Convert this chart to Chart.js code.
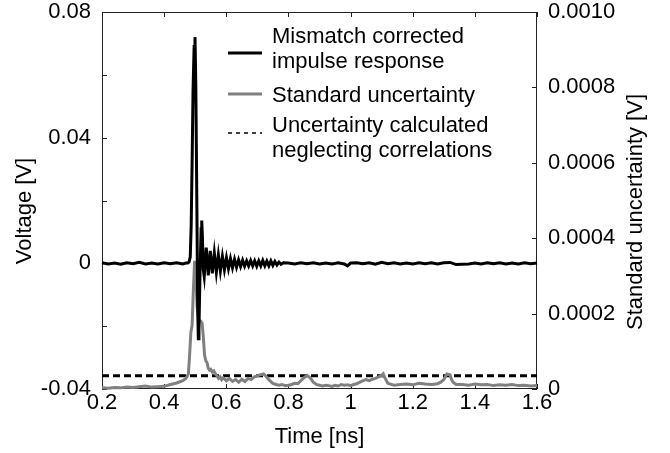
<!DOCTYPE html>
<html>
<head>
<meta charset="utf-8">
<script src="https://cdn.jsdelivr.net/npm/chart.js@4.4.1/dist/chart.umd.min.js"></script>
<style>
  body { margin: 0; background: #fff; }
  canvas { display: block; }
</style>
</head>
<body>
<canvas id="chart" width="670" height="453"></canvas>
<script>
// impulse response (left axis, V)
const impulseTime = [
  0.20, 0.22, 0.24, 0.26, 0.28, 0.30, 0.32, 0.34, 0.36, 0.38, 0.40, 0.42, 0.44, 0.46, 0.47,
  0.476, 0.480, 0.484, 0.487, 0.490, 0.493, 0.4965, 0.4993, 0.502, 0.505, 0.508, 0.510, 0.512,
  0.5155, 0.519, 0.521, 0.523, 0.526,
  0.5290, 0.5355, 0.5420, 0.5485, 0.5550, 0.5615, 0.5680, 0.5745, 0.5810, 0.5875, 0.5940,
  0.6005, 0.6070, 0.6135, 0.6200, 0.6265, 0.6330, 0.6395, 0.6460, 0.6525, 0.6590, 0.6655,
  0.6720, 0.6785, 0.6850, 0.6915, 0.6980, 0.7045, 0.7110, 0.7175, 0.7240, 0.7305, 0.7370,
  0.7435, 0.7500, 0.7565, 0.7630, 0.7695, 0.7760, 0.7840,
  0.80, 0.82, 0.84, 0.86, 0.88, 0.90, 0.92, 0.94, 0.96, 0.98, 0.99, 1.00, 1.02, 1.04, 1.06,
  1.08, 1.10, 1.12, 1.14, 1.16, 1.18, 1.20, 1.22, 1.24, 1.26, 1.28, 1.30, 1.32, 1.34, 1.36,
  1.38, 1.40, 1.42, 1.44, 1.46, 1.48, 1.50, 1.52, 1.54, 1.56, 1.58, 1.60
];
const impulseVolt = [
  0.0002, -0.0002, 0.0001, -0.0003, 0.0002, -0.0001, 0.0003, -0.0002, 0.0001, -0.0002, 0.0002, -0.0001, 0.0002, -0.0002, 0.0001,
  0.0001, 0.0004, 0.002, 0.012, 0.032, 0.055, 0.069, 0.072, 0.056, 0.022, -0.014, -0.024, -0.021,
  -0.003, 0.011, 0.0136, 0.009, -0.002,
  -0.0042, 0.0050, -0.0038, 0.0040, -0.0032, 0.0033, -0.0028, 0.0027, -0.0024, 0.0022, -0.0020,
  0.0018, -0.0017, 0.0015, -0.0014, 0.0013, -0.0012, 0.0011, -0.0010, 0.0010, -0.0009, 0.0008,
  -0.0008, 0.0009, -0.0008, 0.0008, -0.0009, 0.0008, -0.0008, 0.0009, -0.0008, 0.0007, -0.0008,
  0.0008, -0.0007, 0.0006, -0.0005, 0.0004, -0.0003, 0.0002,
  0.0001, -0.0002, 0.0002, -0.0001, 0.0002, -0.0002, 0.0001, -0.0002, 0.0002, -0.0002, -0.0008, 0.0001, 0.0002, -0.0001, 0.0002,
  -0.0003, 0.0003, -0.0001, 0.0002, -0.0002, 0.0001, -0.0002, 0.0002, -0.0001, 0.0002, -0.0002, 0.0002, 0.0003, -0.0004, -0.0003,
  -0.0002, 0.0001, -0.0002, 0.0002, -0.0001, 0.0002, -0.0002, 0.0001, -0.0002, 0.0002, -0.0001, 0.0001
];

// standard uncertainty (right axis, V)
const uncTime = [
  0.20, 0.22, 0.24, 0.26, 0.28, 0.30, 0.32, 0.34, 0.36, 0.38, 0.40, 0.42, 0.44, 0.46, 0.47,
  0.475, 0.478, 0.482, 0.486, 0.490, 0.494, 0.498, 0.502, 0.506, 0.510, 0.514, 0.518, 0.522,
  0.526, 0.530, 0.534, 0.538, 0.542, 0.546, 0.550, 0.555, 0.560, 0.565, 0.570, 0.575, 0.580,
  0.585, 0.590, 0.60, 0.61, 0.62, 0.63, 0.64, 0.65, 0.66, 0.67, 0.68, 0.69, 0.70, 0.71, 0.72,
  0.73, 0.74, 0.75, 0.76, 0.77, 0.78, 0.79, 0.80, 0.81, 0.82, 0.83, 0.84, 0.85, 0.86, 0.87,
  0.88, 0.89, 0.90, 0.91, 0.92, 0.93, 0.94, 0.95, 0.96, 0.97, 0.98, 0.99, 1.00, 1.01, 1.02,
  1.03, 1.04, 1.05, 1.06, 1.07, 1.08, 1.09, 1.10, 1.105, 1.11, 1.12, 1.14, 1.16, 1.18, 1.20,
  1.22, 1.24, 1.26, 1.28, 1.29, 1.30, 1.31, 1.32, 1.325, 1.33, 1.34, 1.36, 1.38, 1.40, 1.42,
  1.44, 1.46, 1.48, 1.50, 1.52, 1.54, 1.56, 1.58, 1.60
];
const uncValue = [
  0.000003, 0.000002, 0.000004, 0.000003, 0.000005, 0.000004, 0.000006, 0.000008, 0.000005, 0.000006, 0.000007, 0.000012, 0.000016, 0.000022, 0.000028,
  0.000035, 0.00004, 0.00009, 0.00015, 0.00017, 0.00026, 0.00034, 0.00030, 0.00022, 0.00019, 0.00018, 0.00018, 0.000175,
  0.00014, 0.00009, 0.000075, 0.00007, 0.000055, 0.00005, 0.000052, 0.000045, 0.000048, 0.00004, 0.000035, 0.000028, 0.000032,
  0.000025, 0.00003, 0.000022, 0.000028, 0.00002, 0.000025, 0.000018, 0.000026, 0.00002, 0.000028, 0.000025, 0.000032, 0.000035, 0.000038, 0.00004,
  0.000032, 0.000022, 0.000015, 0.000012, 0.00001, 0.000012, 0.000009, 0.00001, 0.000012, 0.000015, 0.000014, 0.000022, 0.00003, 0.000036, 0.00003,
  0.000018, 0.000012, 0.00001, 0.000008, 0.00001, 0.000009, 0.000007, 0.00001, 0.000008, 0.000012, 0.00001, 0.000011, 0.000009, 0.000012, 0.000014,
  0.000018, 0.000022, 0.000025, 0.000022, 0.000026, 0.000028, 0.000032, 0.000036, 0.00004, 0.00003, 0.000015, 0.00001, 0.000012, 0.000013, 0.000011,
  0.000015, 0.000013, 0.000012, 0.000014, 0.000018, 0.000025, 0.00004, 0.000038, 0.000025, 0.000018, 0.000012, 0.000012, 0.00001, 0.000013, 0.000011,
  0.000012, 0.000009, 0.000011, 0.00001, 0.000012, 0.000009, 0.00001, 0.000008, 0.000009
];

// uncertainty neglecting correlations (right axis, constant level)
const neglectTime = [0.2, 1.6];
const neglectValue = [0.000035, 0.000035];

const legendLines = [
  { text: ['Mismatch corrected', 'impulse response'], color: '#000', width: 3, dash: [] },
  { text: ['Standard uncertainty'], color: '#808080', width: 3, dash: [] },
  { text: ['Uncertainty calculated', 'neglecting correlations'], color: '#000', width: 1.5, dash: [4, 4] }
];

const FONT = '"Liberation Sans", Arial, sans-serif';
Chart.defaults.font.family = FONT;
Chart.defaults.font.size = 22;
Chart.defaults.color = '#000';

const toPoints = (xs, ys) => xs.map((x, i) => ({ x, y: ys[i] }));

// fixed axis sizes so the plot box lands where the original one is
const fixWidth = w => s => { s.width = w; s.paddingTop = 0; s.paddingBottom = 0; };

// box, inward tick marks, y titles and the in-plot legend
const framePlugin = {
  id: 'frame',
  beforeDatasetsDraw(chart) {
    const { ctx, chartArea: a, scales } = chart;
    ctx.save();
    ctx.strokeStyle = '#222';
    ctx.lineWidth = 1;
    ctx.strokeRect(a.left + 0.5, a.top + 0.5, a.right - a.left - 1, a.bottom - a.top - 1);
    ctx.beginPath();
    scales.x.ticks.forEach(t => {
      const px = Math.round(scales.x.getPixelForValue(t.value)) + 0.5;
      ctx.moveTo(px, a.bottom); ctx.lineTo(px, a.bottom - 5);
      ctx.moveTo(px, a.top); ctx.lineTo(px, a.top + 5);
    });
    scales.y.ticks.forEach(t => {
      const py = Math.round(scales.y.getPixelForValue(t.value)) + 0.5;
      ctx.moveTo(a.left, py); ctx.lineTo(a.left + 5, py);
    });
    scales.y1.ticks.forEach(t => {
      const py = Math.round(scales.y1.getPixelForValue(t.value)) + 0.5;
      ctx.moveTo(a.right, py); ctx.lineTo(a.right - 5, py);
    });
    ctx.stroke();
    ctx.restore();
  },
  afterDraw(chart) {
    const ctx = chart.ctx;
    ctx.save();
    ctx.font = '22px ' + FONT;
    ctx.fillStyle = '#000';

    // axis titles, both reading bottom to top
    ctx.textAlign = 'center';
    ctx.textBaseline = 'middle';
    [['Voltage [V]', 25, 211], ['Standard uncertainty [V]', 636, 212]].forEach(([txt, x, y]) => {
      ctx.save();
      ctx.translate(x, y);
      ctx.rotate(-Math.PI / 2);
      ctx.fillText(txt, 0, 0);
      ctx.restore();
    });

    const sampleY = [53, 94, 133];
    const textY = [[43, 68], [102], [132, 157]];
    ctx.textAlign = 'left';
    ctx.textBaseline = 'alphabetic';
    legendLines.forEach((item, i) => {
      ctx.beginPath();
      ctx.strokeStyle = item.color;
      ctx.lineWidth = item.width;
      ctx.setLineDash(item.dash);
      ctx.moveTo(228, sampleY[i]);
      ctx.lineTo(262, sampleY[i]);
      ctx.stroke();
      item.text.forEach((line, j) => ctx.fillText(line, 272, textY[i][j]));
    });
    ctx.restore();
  }
};

new Chart(document.getElementById('chart'), {
  type: 'line',
  data: {
    datasets: [
      {
        label: 'Mismatch corrected impulse response',
        data: toPoints(impulseTime, impulseVolt),
        borderColor: '#000', borderWidth: 3, yAxisID: 'y', clip: 4
      },
      {
        label: 'Standard uncertainty',
        data: toPoints(uncTime, uncValue),
        borderColor: '#808080', borderWidth: 3, yAxisID: 'y1', clip: 4
      },
      {
        label: 'Uncertainty calculated neglecting correlations',
        data: toPoints(neglectTime, neglectValue),
        borderColor: '#000', borderWidth: 3, borderDash: [7, 4], yAxisID: 'y1', clip: 4
      }
    ]
  },
  options: {
    responsive: false,
    animation: false,
    layout: { padding: { top: 12 } },
    elements: { point: { radius: 0 }, line: { tension: 0, borderCapStyle: 'butt' } },
    plugins: { legend: { display: false }, tooltip: { enabled: false } },
    scales: {
      x: {
        type: 'linear', position: 'bottom', min: 0.2, max: 1.6,
        grid: { display: false, drawTicks: false }, border: { display: false },
        ticks: { stepSize: 0.2, padding: 1, autoSkip: false, maxRotation: 0,
          callback: v => String(Number(v.toFixed(1))) },
        title: { display: true, text: 'Time [ns]', padding: { top: 0, bottom: 3 } },
        afterFit: s => { s.height = 64; }
      },
      y: {
        position: 'left', min: -0.04, max: 0.08,
        grid: { display: false, drawTicks: false }, border: { display: false },
        ticks: { stepSize: 0.02, padding: 11, autoSkip: false,
          callback: v => {
            const n = Math.round(v * 100);
            return n % 4 === 0 ? String(n / 100) : '';
          } },
        afterFit: fixWidth(102)
      },
      y1: {
        position: 'right', min: 0, max: 0.001,
        grid: { display: false, drawTicks: false }, border: { display: false },
        ticks: { stepSize: 0.0002, padding: 11, autoSkip: false,
          callback: v => Math.abs(v) < 1e-12 ? '0' : v.toFixed(4) },
        afterFit: fixWidth(133)
      }
    }
  },
  plugins: [framePlugin]
});
</script>
</body>
</html>
